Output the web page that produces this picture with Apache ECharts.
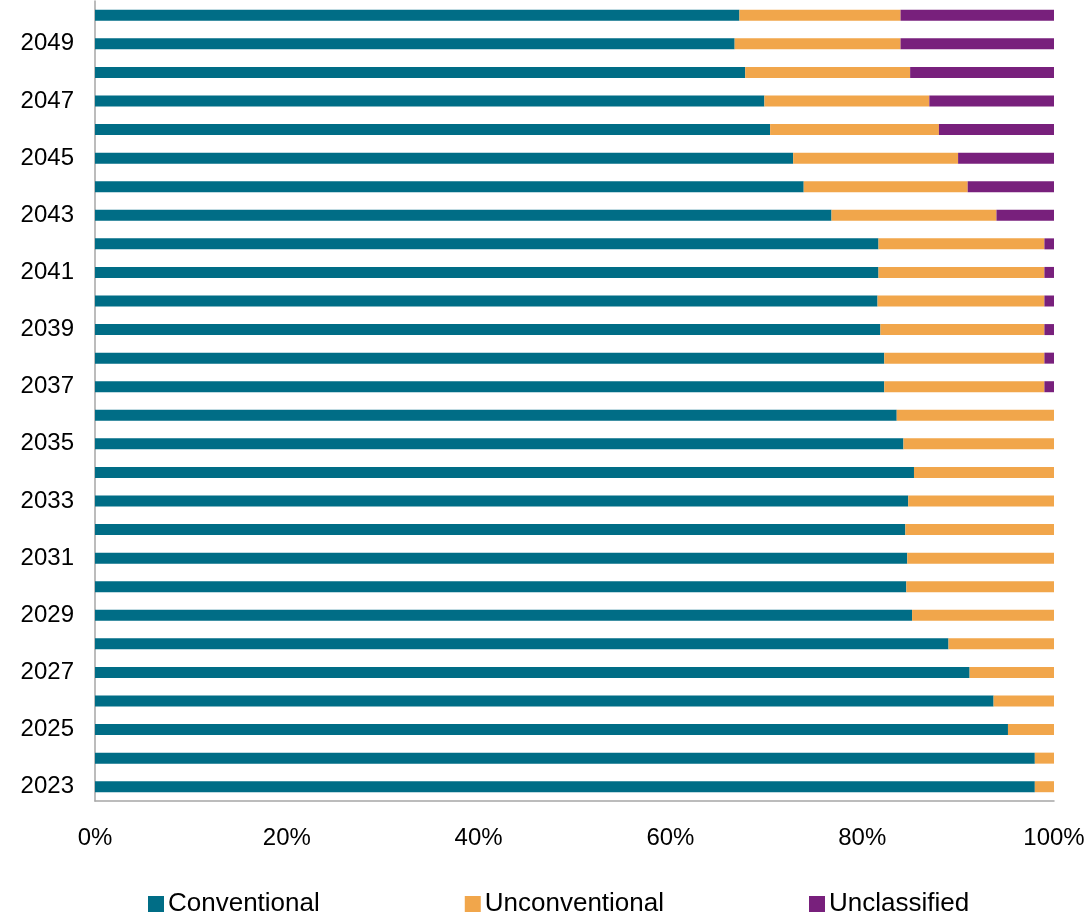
<!DOCTYPE html>
<html>
<head>
<meta charset="utf-8">
<script src="https://cdn.jsdelivr.net/npm/echarts@6/dist/echarts.min.js"></script>
<style>
html,body{margin:0;padding:0;background:#fff;}
#chart{width:1092px;height:919px;}
</style>
</head>
<body>
<div id="chart"></div>
<script>
var years = ['2023','2024','2025','2026','2027','2028','2029','2030','2031','2032','2033','2034','2035','2036','2037','2038','2039','2040','2041','2042','2043','2044','2045','2046','2047','2048','2049','2050'];
var conventional = [98.0,98.0,95.2,93.7,91.2,89.0,85.2,84.6,84.7,84.5,84.8,85.4,84.3,83.6,82.3,82.3,81.9,81.6,81.7,81.7,76.8,73.9,72.8,70.4,69.8,67.8,66.7,67.2];
var unconventional = [2.0,2.0,4.8,6.3,8.8,11.0,14.8,15.4,15.3,15.5,15.2,14.6,15.7,16.4,16.7,16.7,17.1,17.4,17.3,17.3,17.2,17.1,17.2,17.6,17.2,17.2,17.3,16.8];
var unclassified = [0,0,0,0,0,0,0,0,0,0,0,0,0,0,1.0,1.0,1.0,1.0,1.0,1.0,6.0,9.0,10.0,12.0,13.0,15.0,16.0,16.0];
var xTicks = [0,20,40,60,80,100];

var FONT = 'Liberation Sans, Arial, sans-serif';
var chart = echarts.init(document.getElementById('chart'));
function mk(name, data, color){
  return {name:name, type:'bar', stack:'total', data:data, barWidth:11,
    itemStyle:{color:color}, emphasis:{disabled:true}};
}
chart.setOption({
  animation:false,
  grid:{left:95, right:38, top:1, bottom:118},
  xAxis:{type:'value', min:xTicks[0], max:xTicks[xTicks.length-1], interval:20,
    axisLabel:{formatter:'{value}%', color:'#000', fontSize:24, fontFamily:FONT, margin:25},
    axisLine:{show:true, lineStyle:{color:'#A6A6A6', width:1.5}},
    axisTick:{show:false}, splitLine:{show:false}},
  yAxis:{type:'category', data:years,
    axisLabel:{interval:1, color:'#000', fontSize:24, fontFamily:FONT, margin:21},
    axisLine:{show:true, lineStyle:{color:'#A6A6A6', width:1.5}},
    axisTick:{show:false}},
  legend:{top:886, left:143, itemWidth:16, itemHeight:16, itemGap:145,
    icon:'rect', textStyle:{fontSize:26, fontFamily:FONT, color:'#000', padding:[0,0,0,-1]},
    data:['Conventional','Unconventional','Unclassified']},
  series:[
    mk('Conventional', conventional, '#006D86'),
    mk('Unconventional', unconventional, '#F1A64B'),
    mk('Unclassified', unclassified, '#78207C')
  ]
});
</script>
</body>
</html>
